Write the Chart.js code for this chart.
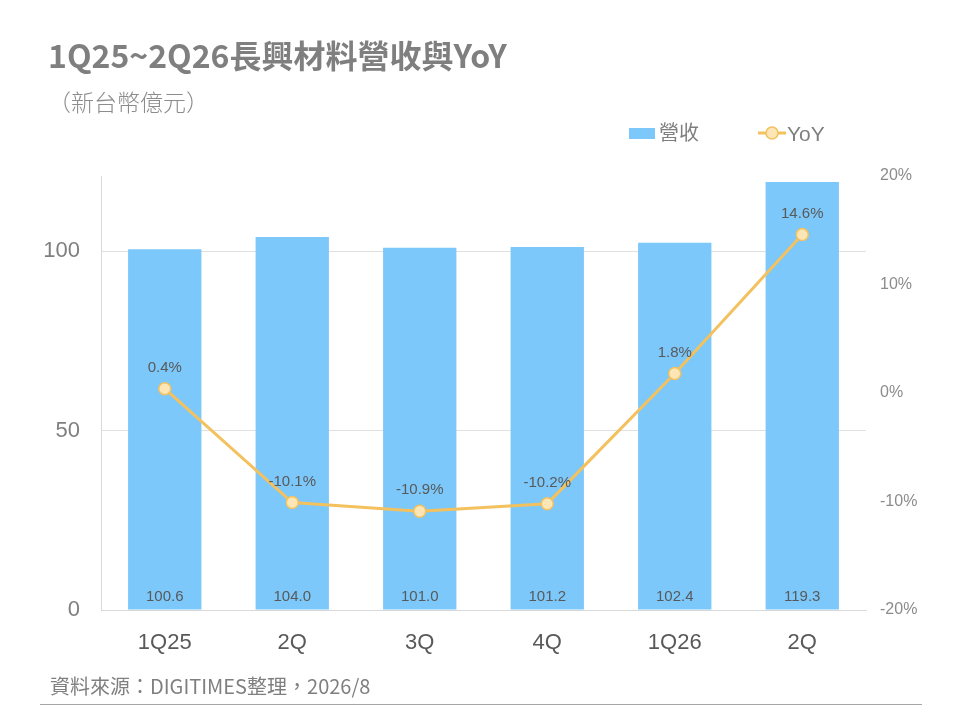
<!DOCTYPE html>
<html>
<head>
<meta charset="utf-8">
<script src="https://cdn.jsdelivr.net/npm/chart.js@4"></script>
<style>
  body { margin: 0; background: #fff; }
  #wrap { position: relative; width: 960px; height: 720px; overflow: hidden;
          font-family: "Liberation Sans", "Noto Sans CJK TC", sans-serif; }
  #title { position: absolute; left: 48px; top: 38px; font-size: 32px; font-weight: bold; color: #7f7f7f;
           font-family: "Noto Sans CJK TC", sans-serif; white-space: nowrap; line-height: 1; }
  #sub { position: absolute; left: 48px; top: 90px; font-size: 23px; color: #8c8c8c;
         font-family: "Noto Sans CJK TC", sans-serif; font-weight: 300; line-height: 1; }
  #source { position: absolute; left: 50px; top: 676px; font-size: 20px; color: #7f7f7f;
            font-family: "Noto Sans CJK TC", sans-serif; line-height: 1; }
  #rule { position: absolute; left: 40px; top: 704px; width: 882px; height: 1px; background: #a6a6a6; }
  canvas { position: absolute; left: 0; top: 0; }
</style>
</head>
<body>
<div id="wrap">
  <canvas id="chart" width="960" height="720"></canvas>
  <div id="title">1Q25~2Q26長興材料營收與YoY</div>
  <div id="sub">（新台幣億元）</div>
  <div id="source">資料來源：DIGITIMES整理，2026/8</div>
  <div id="rule"></div>
</div>
<script>
const quarters = ['1Q25', '2Q', '3Q', '4Q', '1Q26', '2Q'];
const revenue = [100.6, 104.0, 101.0, 101.2, 102.4, 119.3];
const yoy = [0.4, -10.1, -10.9, -10.2, 1.8, 14.6];
const leftTicks = [0, 50, 100];

const barColor = '#7cc8fa';
const lineColor = '#f3c15e';
const pointFill = '#fde6b5';

// value labels for bars (at the bottom) and for the line (above points)
const labelPlugin = {
  id: 'labels',
  afterDatasetsDraw(chart) {
    const ctx = chart.ctx;
    ctx.save();
    ctx.font = '15px "Liberation Sans", sans-serif';
    ctx.fillStyle = '#595959';
    ctx.textAlign = 'center';
    ctx.textBaseline = 'middle';
    chart.getDatasetMeta(1).data.forEach((bar, i) => {
      ctx.fillText(revenue[i].toFixed(1), bar.x, chart.scales.y.getPixelForValue(0) - 13);
    });
    chart.getDatasetMeta(0).data.forEach((pt, i) => {
      ctx.fillText(yoy[i].toFixed(1) + '%', pt.x, pt.y - 21);
    });
    ctx.restore();
  }
};

const legendPlugin = {
  id: 'customLegend',
  afterDraw(chart) {
    const ctx = chart.ctx;
    ctx.save();
    ctx.fillStyle = barColor;
    ctx.fillRect(629, 128, 26, 11);
    ctx.font = '20px "Noto Sans CJK TC", sans-serif';
    ctx.fillStyle = '#7f7f7f';
    ctx.textBaseline = 'middle';
    ctx.fillText('營收', 659, 132);
    ctx.strokeStyle = lineColor;
    ctx.lineWidth = 3;
    ctx.beginPath();
    ctx.moveTo(758, 133);
    ctx.lineTo(786, 133);
    ctx.stroke();
    ctx.beginPath();
    ctx.arc(772, 133, 6, 0, Math.PI * 2);
    ctx.fillStyle = pointFill;
    ctx.fill();
    ctx.lineWidth = 1.5;
    ctx.stroke();
    ctx.font = '21px "Liberation Sans", sans-serif';
    ctx.fillStyle = '#7f7f7f';
    ctx.fillText('YoY', 787, 135);
    ctx.restore();
  }
};

new Chart(document.getElementById('chart'), {
  data: {
    labels: quarters,
    datasets: [
      {
        type: 'line',
        label: 'YoY',
        data: yoy,
        yAxisID: 'y1',
        borderColor: lineColor,
        borderWidth: 3,
        pointRadius: 6,
        pointBackgroundColor: pointFill,
        pointBorderColor: lineColor,
        pointBorderWidth: 1.5,
        tension: 0,
        order: 0
      },
      {
        type: 'bar',
        label: '營收',
        data: revenue,
        yAxisID: 'y',
        backgroundColor: barColor,
        barPercentage: 0.575,
        categoryPercentage: 1,
        order: 1
      }
    ]
  },
  options: {
    responsive: false,
    animation: false,
    layout: { padding: { top: 176, left: 0, right: 0, bottom: 0 } },
    plugins: { legend: { display: false }, tooltip: { enabled: false } },
    scales: {
      x: {
        grid: { display: false },
        border: { color: '#d9d9d9' },
        ticks: { color: '#595959', font: { size: 22, family: '"Liberation Sans", sans-serif' }, padding: 12 },
        afterFit(s) { s.height = 110; }
      },
      y: {
        position: 'left',
        min: 0,
        max: 121,
        afterBuildTicks(s) { s.ticks = leftTicks.map(v => ({ value: v })); },
        grid: { color: '#e0e0e0', drawTicks: false },
        border: { color: '#d9d9d9' },
        ticks: { color: '#7f7f7f', font: { size: 22, family: '"Liberation Sans", sans-serif' }, padding: 21 },
        afterFit(s) { s.width = 101; }
      },
      y1: {
        position: 'right',
        min: -20,
        max: 20,
        ticks: {
          stepSize: 10,
          color: '#8c8c8c',
          font: { size: 16, family: '"Liberation Sans", sans-serif' },
          padding: 14,
          callback: v => v + '%'
        },
        grid: { display: false, drawTicks: false },
        border: { display: false },
        afterFit(s) { s.width = 94; }
      }
    }
  },
  plugins: [labelPlugin, legendPlugin]
});
</script>
</body>
</html>
